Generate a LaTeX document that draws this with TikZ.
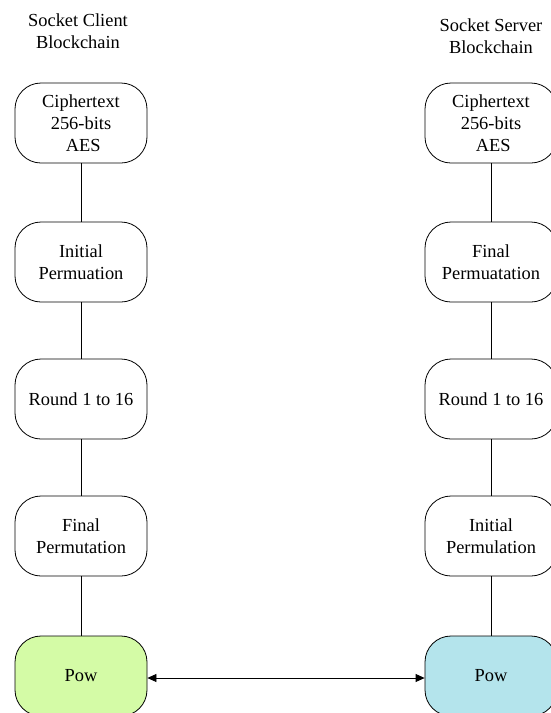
\documentclass[tikz,border=0pt]{standalone}
\usepackage{fontspec}
\setmainfont{Liberation Serif}
\usetikzlibrary{arrows.meta}
\definecolor{powgreen}{HTML}{D4FBA6}
\definecolor{powblue}{HTML}{B4E4EC}
\begin{document}
\begin{tikzpicture}[x=1pt,y=-1pt,
  every node/.style={font=\fontsize{18.4}{22}\selectfont, align=center, inner sep=0pt},
  stage/.style={draw, line width=0.8pt, rounded corners=26pt,
    minimum width=132pt, minimum height=80pt},
  link/.style={line width=0.8pt},
  pipe/.style={line width=0.8pt, {Triangle[length=9pt,width=8pt]}-{Triangle[length=9pt,width=8pt]}}]
  \useasboundingbox (0,0) rectangle (551,713);

  % column headers
  \node (hc) at (78,31) {Socket Client\\Blockchain};
  \node (hs) at (491,36) {Socket Server\\Blockchain};

  % client column
  \node[stage] (c1) at (81,123) {Ciphertext\\256-bits\\\ AES};
  \node[stage] (c2) at (81,262) {Initial\\Permuation};
  \node[stage] (c3) at (81,399) {Round 1 to 16};
  \node[stage] (c4) at (81,536) {Final\\Permutation};
  \node[stage, fill=powgreen] (c5) at (81,676) {Pow};

  % server column
  \node[stage] (s1) at (491,123) {Ciphertext\\256-bits\\\ AES};
  \node[stage] (s2) at (491,262) {Final\\Permuatation};
  \node[stage] (s3) at (491,399) {Round 1 to 16};
  \node[stage] (s4) at (491,536) {Initial\\Permulation};
  \node[stage, fill=powblue] (s5) at (491,676) {Pow};

  % vertical links
  \draw[link] (c1) -- (c2);
  \draw[link] (c2) -- (c3);
  \draw[link] (c3) -- (c4);
  \draw[link] (c4) -- (c5);
  \draw[link] (s1) -- (s2);
  \draw[link] (s2) -- (s3);
  \draw[link] (s3) -- (s4);
  \draw[link] (s4) -- (s5);

  % exchange between the two proof-of-work stages
  \draw[pipe] ([yshift=-2pt]c5.east) -- ([yshift=-2pt]s5.west);
\end{tikzpicture}
\end{document}
